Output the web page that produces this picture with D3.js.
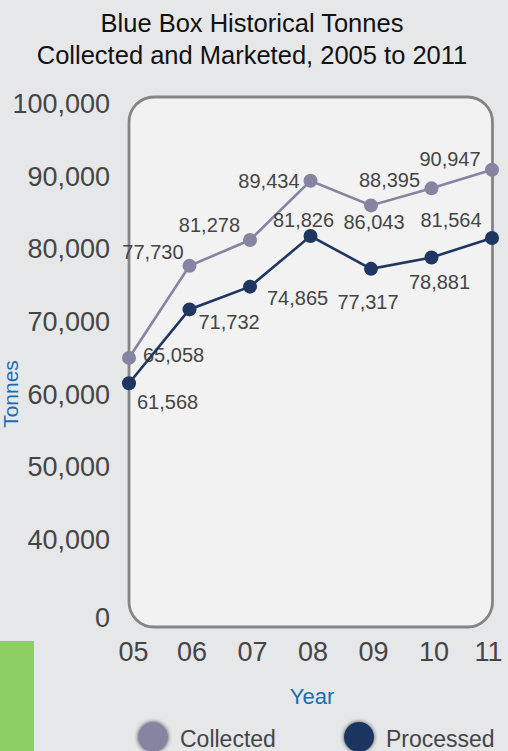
<!DOCTYPE html>
<html><head><meta charset="utf-8">
<script src="https://cdn.jsdelivr.net/npm/d3@7"></script>
<style>
body{margin:0;background:#e6e7e9;}
svg{display:block;font-family:"Liberation Sans",Arial,sans-serif;}
</style>
</head><body><svg id="chart" width="508" height="751"></svg>
<script>
// ---- data ----
const years = ["05","06","07","08","09","10","11"];
const collected = [65058,77730,81278,89434,86043,88395,90947];
const processed = [61568,71732,74865,81826,77317,78881,81564];
const yTicks = [0,40000,50000,60000,70000,80000,90000,100000];
const seriesNames = ["Collected","Processed"];
const titleLines = ["Blue Box Historical Tonnes","Collected and Marketed, 2005 to 2011"];
const xTitle = "Year";
const yTitle = "Tonnes";

// ---- layout (label placement relative to each point) ----
const collectedLabelPos = [["start",14,-3],["end",-6,-14],["end",-10,-15],["end",-11,0],["middle",3,17],["middle",-42,-8],["middle",-42,-11]];
const processedLabelPos = [["start",8,19],["start",9,13],["start",17,11],["middle",-7,-16],["middle",-3,33],["middle",8,25],["middle",-41,-18]];

const colors = {collected:"#8585a1", processed:"#1f3661", text:"#454545", blue:"#1a6cb5"};

const svg = d3.select("#chart");
const defs = svg.append("defs");
const f = defs.append("filter").attr("id","shadow").attr("x","-50%").attr("y","-50%").attr("width","200%").attr("height","200%");
f.append("feDropShadow").attr("dx",0).attr("dy",0).attr("stdDeviation",2).attr("flood-color","#000").attr("flood-opacity",0.7);

// background
svg.append("rect").attr("width",508).attr("height",751).attr("fill","#e6e7e9");
// green side bar
svg.append("rect").attr("x",0).attr("y",641).attr("width",34).attr("height",110).attr("fill","#8dcf63");

// scales
const x = d3.scalePoint().domain(years).range([129,492]);
const y = d3.scaleLinear().domain([0,40000,100000]).range([618,540,104]);

// plot box
svg.append("rect").attr("x",129).attr("y",97).attr("width",363.5).attr("height",530)
  .attr("rx",25).attr("ry",25).attr("fill","#f2f2f2").attr("stroke","#858587").attr("stroke-width",2.8);

// title
svg.append("g").selectAll("text").data(titleLines).join("text")
  .attr("x",252).attr("y",(d,i)=>32+i*31.5).attr("text-anchor","middle")
  .attr("font-size",25.5).attr("fill","#111").text(d=>d);

// y axis
const yAxis = svg.append("g").attr("transform","translate(118,0)")
  .call(d3.axisLeft(y).tickValues(yTicks).tickFormat(d3.format(",")).tickSize(0).tickPadding(8));
yAxis.select(".domain").remove();
yAxis.selectAll("text").attr("font-size",27).attr("fill",colors.text).attr("font-family","'Liberation Sans',Arial,sans-serif");

// x axis
const xAxis = svg.append("g").attr("transform","translate(0,634)")
  .call(d3.axisBottom(x).tickSize(0).tickPadding(8));
xAxis.select(".domain").remove();
xAxis.selectAll("text").attr("font-size",27).attr("fill",colors.text).attr("font-family","'Liberation Sans',Arial,sans-serif")
  .attr("dx",(d,i)=> i===0?4:(i===years.length-1?-4:2));

// axis titles
svg.append("text").attr("x",312).attr("y",704).attr("text-anchor","middle")
  .attr("font-size",22).attr("fill",colors.blue).text(xTitle);
svg.append("text").attr("transform","translate(18,394) rotate(-90)").attr("text-anchor","middle")
  .attr("font-size",21).attr("fill",colors.blue).text(yTitle);

// series
const series = [
  {name:seriesNames[0], values:collected, color:colors.collected, pos:collectedLabelPos},
  {name:seriesNames[1], values:processed, color:colors.processed, pos:processedLabelPos}
];
const line = d3.line().x((d,i)=>x(years[i])).y(d=>y(d));
const fmt = d3.format(",");
series.forEach(s=>{
  const g = svg.append("g");
  g.append("path").attr("d",line(s.values)).attr("fill","none").attr("stroke",s.color).attr("stroke-width",2.6);
  g.selectAll("circle").data(s.values).join("circle")
    .attr("cx",(d,i)=>x(years[i])).attr("cy",d=>y(d)).attr("r",7).attr("fill",s.color);
  g.selectAll("text").data(s.values).join("text")
    .attr("x",(d,i)=>x(years[i])+s.pos[i][1]).attr("y",(d,i)=>y(d)+s.pos[i][2]).attr("dy","0.35em")
    .attr("text-anchor",(d,i)=>s.pos[i][0]).attr("font-size",20).attr("fill",colors.text).text(d=>fmt(d));
});

// legend
const legend = svg.append("g").selectAll("g").data(series).join("g")
  .attr("transform",(d,i)=>`translate(${153+i*206},737)`);
legend.append("circle").attr("r",15).attr("fill",d=>d.color).attr("filter","url(#shadow)");
legend.append("text").attr("x",27).attr("y",10).attr("font-size",23).attr("fill",colors.text).text(d=>d.name);
</script>
</body></html>
